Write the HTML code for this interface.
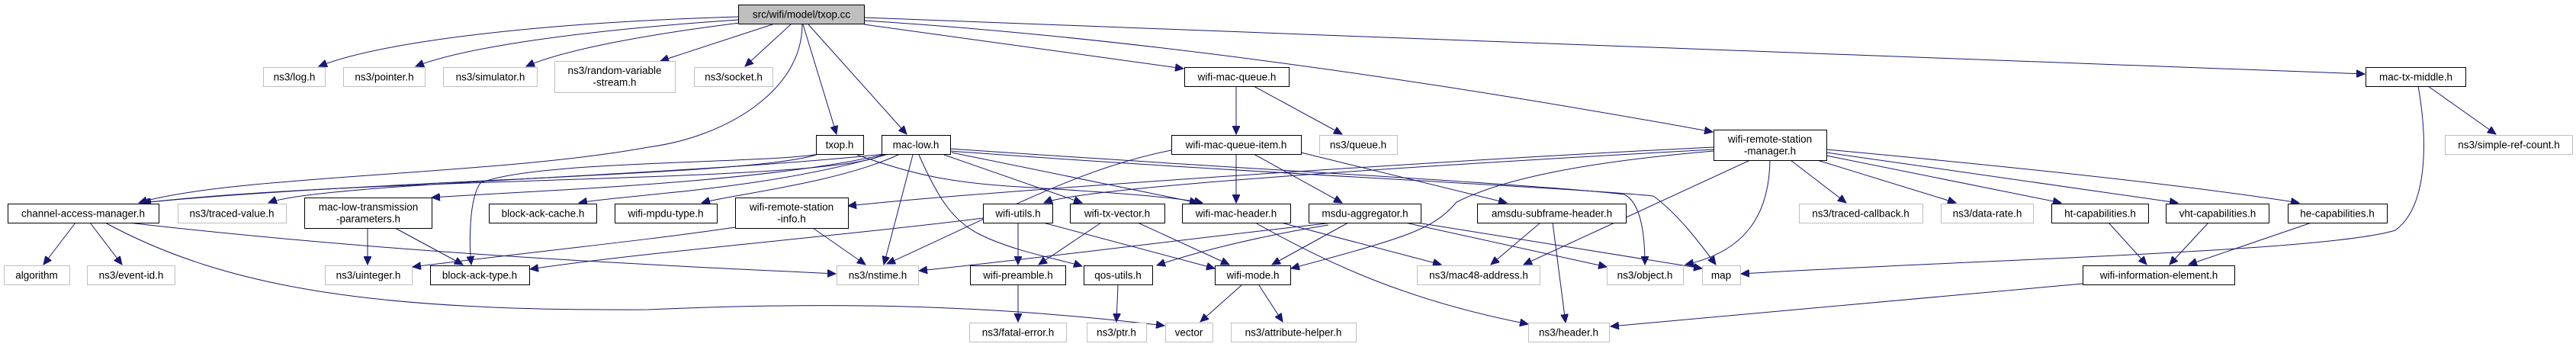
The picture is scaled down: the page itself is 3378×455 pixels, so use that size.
<!DOCTYPE html>
<html><head><meta charset="utf-8"><style>
html,body{margin:0;padding:0;background:#fff}
svg{display:block}
text{font-family:"Liberation Sans","DejaVu Sans",sans-serif;font-size:13.5px;fill:#000}
.n rect{fill:#fff;stroke:#000;stroke-width:1}
.g rect{fill:#fff;stroke:#bfbfbf;stroke-width:1}
path{fill:none;stroke:#191970;stroke-width:1}
</style></head><body>
<svg width="3378" height="455" viewBox="0 0 3378 455" xmlns="http://www.w3.org/2000/svg">
<defs><marker id="a" markerUnits="userSpaceOnUse" markerWidth="12" markerHeight="10" refX="11" refY="5" orient="auto"><path d="M0,0 L11,5 L0,10 Z" style="fill:#191970;stroke:#191970"/></marker></defs>
<g marker-end="url(#a)">
<path d="M968,22 C700,30 500,55 418,87"/>
<path d="M968,26 C760,40 610,62 545,87"/>
<path d="M970,30 C850,45 740,65 690,87"/>
<path d="M1013,32 L866,80"/>
<path d="M1037,32 L977,87"/>
<path d="M1053,32 L1097,176"/>
<path d="M1060,32 L1189,176"/>
<path d="M1133,32 L1552,90"/>
<path d="M1133,23 C1800,48 2600,80 3101,97"/>
<path d="M1133,27 C1500,50 1900,110 2246,173"/>
<path d="M1052,32 C1052,120 950,180 850,193 C650,230 300,230 182,266"/>
<path d="M1074,202 C1000,215 700,210 630,240 C615,260 615,320 618,347"/>
<path d="M1073,202 C1000,230 500,235 185,266"/>
<path d="M1160,202 C1100,240 500,230 187,266"/>
<path d="M1160,202 C900,230 420,240 352,266"/>
<path d="M1162,202 C1000,240 700,250 566,259"/>
<path d="M1165,202 C1000,250 820,255 759,266"/>
<path d="M1180,202 C1100,240 960,255 920,266"/>
<path d="M1197,203 L1159,347"/>
<path d="M1205,203 C1230,260 1250,290 1284,307 C1330,330 1390,340 1419,349"/>
<path d="M1238,203 L1419,266"/>
<path d="M1248,200 L1571,266"/>
<path d="M1246,195 C1600,220 2000,240 2130,255 C2150,265 2157,300 2157,347"/>
<path d="M1246,198 C1600,225 2050,245 2168,257 C2200,280 2230,320 2250,347"/>
<path d="M1124,203 C1200,230 1250,240 1338,245 C1450,252 1540,258 1577,266"/>
<path d="M1621,113 L1621,176"/>
<path d="M1644,113 L1760,176"/>
<path d="M1536,197 C1420,220 1330,270 1163,346"/>
<path d="M1621,202 L1621,266"/>
<path d="M1644,202 L1760,266"/>
<path d="M1706,200 L1976,266"/>
<path d="M2247,193 C1900,210 1300,250 1112,270"/>
<path d="M2247,196 C1900,215 1420,245 1369,266"/>
<path d="M2247,198 C2050,215 1960,240 1910,265 C1880,300 1850,310 1693,352"/>
<path d="M2295,210 L1998,347"/>
<path d="M2321,210 C2320,280 2290,330 2210,347"/>
<path d="M2348,210 L2421,266"/>
<path d="M2383,210 L2565,266"/>
<path d="M2395,204 L2703,266"/>
<path d="M2395,200 L2856,266"/>
<path d="M2395,196 C2600,215 2850,240 3015,266"/>
<path d="M3184,113 L3273,176"/>
<path d="M3171,113 C3183,180 3185,270 3141,302 C3050,330 2600,340 2283,359"/>
<path d="M168,292 C500,330 800,345 1096,359"/>
<path d="M138,292 C300,380 500,408 850,406 C1100,395 1300,400 1527,427"/>
<path d="M99,292 L57,347"/>
<path d="M118,292 L160,347"/>
<path d="M482,299 L482,347"/>
<path d="M518,299 L607,347"/>
<path d="M964,298 C850,315 700,330 541,350"/>
<path d="M1289,286 C1100,310 850,330 695,353"/>
<path d="M1066,299 L1135,347"/>
<path d="M1335,292 L1335,347"/>
<path d="M1368,292 L1593,352"/>
<path d="M1444,292 L1362,347"/>
<path d="M1492,292 L1612,347"/>
<path d="M1748,292 C1500,320 1350,340 1205,355"/>
<path d="M1768,292 L1668,347"/>
<path d="M1742,295 C1650,310 1570,330 1517,348"/>
<path d="M1680,292 L1890,347"/>
<path d="M1646,292 C1750,350 1850,395 2004,425"/>
<path d="M1843,292 L2107,350"/>
<path d="M1852,291 L2232,352"/>
<path d="M2020,292 L1955,347"/>
<path d="M2036,292 L2053,423"/>
<path d="M2731,372 L2112,428"/>
<path d="M2765,292 L2815,347"/>
<path d="M2896,292 L2845,347"/>
<path d="M3031,292 L2870,347"/>
<path d="M1335,374 L1335,422"/>
<path d="M1466,374 L1464,422"/>
<path d="M1628,374 L1574,422"/>
<path d="M1651,374 L1682,422"/>
</g>
<g class="n"><rect x="968.5" y="6.5" width="165" height="25" style="fill:#bfbfbf"/><text x="1051" y="23.5" text-anchor="middle">src/wifi/model/txop.cc</text></g>
<g class="g"><rect x="345.5" y="88.5" width="81" height="25"/><text x="386" y="105.5" text-anchor="middle">ns3/log.h</text></g>
<g class="g"><rect x="450.5" y="88.5" width="107" height="25"/><text x="504" y="105.5" text-anchor="middle">ns3/pointer.h</text></g>
<g class="g"><rect x="581.5" y="88.5" width="123" height="25"/><text x="643" y="105.5" text-anchor="middle">ns3/simulator.h</text></g>
<g class="g"><rect x="727.5" y="80.5" width="158" height="41"/><text x="806" y="97" text-anchor="middle">ns3/random-variable</text><text x="806" y="112.5" text-anchor="middle">-stream.h</text></g>
<g class="g"><rect x="910.5" y="88.5" width="103" height="25"/><text x="962" y="105.5" text-anchor="middle">ns3/socket.h</text></g>
<g class="n"><rect x="1553.5" y="88.5" width="137" height="25"/><text x="1622" y="105.5" text-anchor="middle">wifi-mac-queue.h</text></g>
<g class="n"><rect x="3102.5" y="88.5" width="131" height="25"/><text x="3168" y="105.5" text-anchor="middle">mac-tx-middle.h</text></g>
<g class="n"><rect x="1070.5" y="177.5" width="62" height="25"/><text x="1101" y="194.5" text-anchor="middle">txop.h</text></g>
<g class="n"><rect x="1156.5" y="177.5" width="90" height="25"/><text x="1201" y="194.5" text-anchor="middle">mac-low.h</text></g>
<g class="n"><rect x="1536.5" y="177.5" width="170" height="25"/><text x="1621" y="194.5" text-anchor="middle">wifi-mac-queue-item.h</text></g>
<g class="g"><rect x="1730.5" y="177.5" width="102" height="25"/><text x="1781" y="194.5" text-anchor="middle">ns3/queue.h</text></g>
<g class="n"><rect x="2247.5" y="170.5" width="148" height="40"/><text x="2321" y="187" text-anchor="middle">wifi-remote-station</text><text x="2321" y="202.5" text-anchor="middle">-manager.h</text></g>
<g class="g"><rect x="3206.5" y="177.5" width="167" height="25"/><text x="3290" y="194.5" text-anchor="middle">ns3/simple-ref-count.h</text></g>
<g class="n"><rect x="10.5" y="267.5" width="198" height="25"/><text x="109" y="284.5" text-anchor="middle">channel-access-manager.h</text></g>
<g class="g"><rect x="233.5" y="267.5" width="142" height="25"/><text x="304" y="284.5" text-anchor="middle">ns3/traced-value.h</text></g>
<g class="n"><rect x="399.5" y="259.5" width="167" height="40"/><text x="483" y="276" text-anchor="middle">mac-low-transmission</text><text x="483" y="291.5" text-anchor="middle">-parameters.h</text></g>
<g class="n"><rect x="641.5" y="267.5" width="141" height="25"/><text x="712" y="284.5" text-anchor="middle">block-ack-cache.h</text></g>
<g class="n"><rect x="806.5" y="267.5" width="134" height="25"/><text x="873" y="284.5" text-anchor="middle">wifi-mpdu-type.h</text></g>
<g class="n"><rect x="964.5" y="259.5" width="148" height="40"/><text x="1038" y="276" text-anchor="middle">wifi-remote-station</text><text x="1038" y="291.5" text-anchor="middle">-info.h</text></g>
<g class="n"><rect x="1289.5" y="267.5" width="91" height="25"/><text x="1335" y="284.5" text-anchor="middle">wifi-utils.h</text></g>
<g class="n"><rect x="1403.5" y="267.5" width="124" height="25"/><text x="1465" y="284.5" text-anchor="middle">wifi-tx-vector.h</text></g>
<g class="n"><rect x="1550.5" y="267.5" width="142" height="25"/><text x="1621" y="284.5" text-anchor="middle">wifi-mac-header.h</text></g>
<g class="n"><rect x="1716.5" y="267.5" width="147" height="25"/><text x="1790" y="284.5" text-anchor="middle">msdu-aggregator.h</text></g>
<g class="n"><rect x="1937.5" y="267.5" width="195" height="25"/><text x="2035" y="284.5" text-anchor="middle">amsdu-subframe-header.h</text></g>
<g class="g"><rect x="2359.5" y="267.5" width="162" height="25"/><text x="2440" y="284.5" text-anchor="middle">ns3/traced-callback.h</text></g>
<g class="g"><rect x="2545.5" y="267.5" width="121" height="25"/><text x="2606" y="284.5" text-anchor="middle">ns3/data-rate.h</text></g>
<g class="n"><rect x="2690.5" y="267.5" width="127" height="25"/><text x="2754" y="284.5" text-anchor="middle">ht-capabilities.h</text></g>
<g class="n"><rect x="2840.5" y="267.5" width="135" height="25"/><text x="2908" y="284.5" text-anchor="middle">vht-capabilities.h</text></g>
<g class="n"><rect x="3000.5" y="267.5" width="130" height="25"/><text x="3065" y="284.5" text-anchor="middle">he-capabilities.h</text></g>
<g class="g"><rect x="5.5" y="348.5" width="86" height="25"/><text x="48" y="365.5" text-anchor="middle">algorithm</text></g>
<g class="g"><rect x="114.5" y="348.5" width="115" height="25"/><text x="172" y="365.5" text-anchor="middle">ns3/event-id.h</text></g>
<g class="g"><rect x="426.5" y="348.5" width="114" height="25"/><text x="483" y="365.5" text-anchor="middle">ns3/uinteger.h</text></g>
<g class="n"><rect x="564.5" y="348.5" width="130" height="25"/><text x="629" y="365.5" text-anchor="middle">block-ack-type.h</text></g>
<g class="g"><rect x="1097.5" y="348.5" width="107" height="25"/><text x="1151" y="365.5" text-anchor="middle">ns3/nstime.h</text></g>
<g class="n"><rect x="1272.5" y="348.5" width="125" height="25"/><text x="1335" y="365.5" text-anchor="middle">wifi-preamble.h</text></g>
<g class="n"><rect x="1421.5" y="348.5" width="90" height="25"/><text x="1466" y="365.5" text-anchor="middle">qos-utils.h</text></g>
<g class="n"><rect x="1593.5" y="348.5" width="99" height="25"/><text x="1643" y="365.5" text-anchor="middle">wifi-mode.h</text></g>
<g class="g"><rect x="1858.5" y="348.5" width="161" height="25"/><text x="1939" y="365.5" text-anchor="middle">ns3/mac48-address.h</text></g>
<g class="g"><rect x="2107.5" y="348.5" width="100" height="25"/><text x="2157" y="365.5" text-anchor="middle">ns3/object.h</text></g>
<g class="g"><rect x="2232.5" y="348.5" width="50" height="25"/><text x="2257" y="365.5" text-anchor="middle">map</text></g>
<g class="n"><rect x="2731.5" y="348.5" width="199" height="25"/><text x="2831" y="365.5" text-anchor="middle">wifi-information-element.h</text></g>
<g class="g"><rect x="1271.5" y="423.5" width="127" height="25"/><text x="1335" y="440.5" text-anchor="middle">ns3/fatal-error.h</text></g>
<g class="g"><rect x="1425.5" y="423.5" width="78" height="25"/><text x="1464" y="440.5" text-anchor="middle">ns3/ptr.h</text></g>
<g class="g"><rect x="1528.5" y="423.5" width="62" height="25"/><text x="1559" y="440.5" text-anchor="middle">vector</text></g>
<g class="g"><rect x="1614.5" y="423.5" width="164" height="25"/><text x="1696" y="440.5" text-anchor="middle">ns3/attribute-helper.h</text></g>
<g class="g"><rect x="2004.5" y="423.5" width="106" height="25"/><text x="2057" y="440.5" text-anchor="middle">ns3/header.h</text></g>
</svg>
</body></html>
